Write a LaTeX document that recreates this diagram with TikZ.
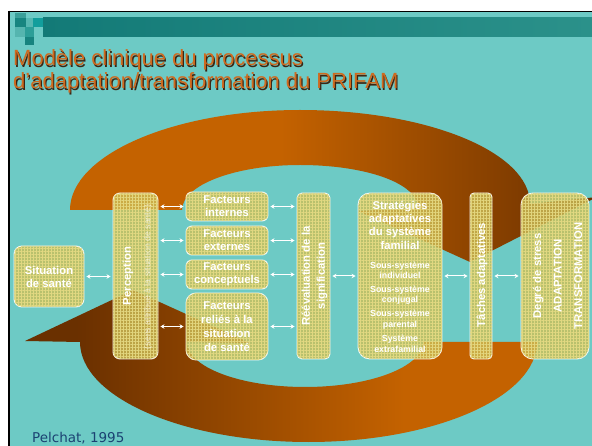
\documentclass[tikz,border=0pt]{standalone}
\usepackage{fontspec}
\setmainfont{Liberation Sans}
\newfontfamily\citefont{DejaVu Sans}
\usetikzlibrary{arrows.meta,patterns.meta}

% palette
\definecolor{slideTeal}{HTML}{6DCAC5}
\definecolor{barDark}{HTML}{137A77}
\definecolor{barLight}{HTML}{2B918A}
\definecolor{arcOrange}{HTML}{C46200}
\definecolor{arcDark}{HTML}{6A3000}
\definecolor{panelFill}{HTML}{CDBF58}
\definecolor{panelGrid}{HTML}{E6DB84}
\definecolor{titleOrange}{HTML}{CF6A1F}
\definecolor{titleShadow}{HTML}{3B2614}
\definecolor{citeBlue}{HTML}{1B4272}

% gradients of the two curved arrows
\pgfdeclarehorizontalshading{arcTopShade}{100bp}{color(0bp)=(arcOrange); color(25bp)=(arcOrange); color(45bp)=(arcOrange); color(75bp)=(arcDark); color(100bp)=(arcDark)}
\pgfdeclarehorizontalshading{arcBotShade}{100bp}{color(0bp)=(arcDark); color(25bp)=(arcDark); color(30bp)=(arcDark); color(62bp)=(arcOrange); color(100bp)=(arcOrange)}

\begin{document}
\begin{tikzpicture}[x=1pt,y=-1pt,
  panel/.style={rounded corners=#1, draw=white, draw opacity=0.9, line width=0.9pt,
    fill=panelFill, fill opacity=0.8, inner sep=0pt,
    postaction={pattern={Hatch[angle=0,distance=3pt,line width=0.9pt]}, pattern color=panelGrid, fill opacity=0.5}},
  panel/.default=8pt,
  lbl/.style={text=white, font=\bfseries\fontsize{11.3}{13}\selectfont, align=center, inner sep=0pt},
  small/.style={text=white, font=\bfseries\fontsize{8.8}{10.5}\selectfont, align=center, inner sep=0pt},
  link/.style={{Stealth[length=4pt,width=4.5pt]}-{Stealth[length=4pt,width=4.5pt]}, white, line width=1pt,
    shorten <=2pt, shorten >=2pt},
  titletext/.style={anchor=base west, inner sep=0pt, font=\fontsize{22}{23}\selectfont}
]
\useasboundingbox (0,0) rectangle (592,446);

% slide ground
\fill[white] (0,0) rectangle (592,446);
\fill[slideTeal] (10,12) rectangle (592,446);

% header band and corner squares
\shade[left color=barDark, right color=barLight] (43,18) rectangle (592,37);
\fill[fill={rgb,255:red,58;green,159;blue,153}] (15,13) rectangle (26,18);
\fill[fill={rgb,255:red,23;green,133;blue,128}] (15,18) rectangle (26,27);
\fill[fill={rgb,255:red,86;green,184;blue,178}] (26,18) rectangle (33,27);
\fill[fill={rgb,255:red,18;green,158;blue,156}] (33,18) rectangle (43,27);
\fill[fill={rgb,255:red,85;green,181;blue,175}] (15,27) rectangle (25,37);
\fill[fill={rgb,255:red,44;green,158;blue,152}] (25,27) rectangle (34,37);
\fill[fill={rgb,255:red,23;green,131;blue,127}] (25,37) rectangle (34,45);

% frame lines
\draw[black, line width=1.8pt] (8,11.5) -- (592,11.5);
\draw[black, line width=2.4pt] (9.2,10.6) -- (9.2,446);

% title with its shadow
\node[titletext, text=titleShadow] (title1shadow) at (14.2,67.2) {Modèle clinique du processus};
\node[titletext, text=titleOrange] (title1) at (13,66) {Modèle clinique du processus};
\node[titletext, text=titleShadow] (title2shadow) at (14.2,90.2) {d’adaptation/transformation du PRIFAM};
\node[titletext, text=titleOrange] (title2) at (13,89) {d’adaptation/transformation du PRIFAM};

% upper curved arrow, pointing down on the right
\shade[shading=arcTopShade]
  (70,210) .. controls (70,155) and (173,110) .. (300,110)
  .. controls (427,110) and (530,152) .. (530,204)
  -- (597,197) -- (470,262) -- (358,211) -- (418,208)
  .. controls (418,183) and (365,165) .. (300,165)
  .. controls (235,165) and (182,185) .. (182,210) -- cycle;

% lower curved arrow, pointing up on the left
\shade[shading=arcBotShade]
  (537,342) .. controls (537,397) and (434.7,442) .. (308.5,442)
  .. controls (182.3,442) and (80,397) .. (80,342)
  -- (25,341) -- (133,290) -- (250,343) -- (187,342)
  .. controls (187,367) and (240,387) .. (305,387)
  .. controls (370,387) and (423,367) .. (423,342) -- cycle;

% boxes
\node[panel=8pt, minimum width=70pt, minimum height=61pt] (sit) at (49,276.5) {};
\node[panel=7pt, minimum width=45pt, minimum height=166pt] (perc) at (135.5,276) {};
\node[panel=6pt, minimum width=82pt, minimum height=29pt] (fint) at (227,206.5) {};
\node[panel=6pt, minimum width=82pt, minimum height=29pt] (fext) at (227,240.5) {};
\node[panel=6pt, minimum width=82pt, minimum height=29pt] (fconc) at (227,274.5) {};
\node[panel=10pt, minimum width=82pt, minimum height=67pt] (frel) at (227,326.5) {};
\node[panel=5pt, minimum width=33pt, minimum height=166pt] (reev) at (313.5,276) {};
\node[panel=12pt, minimum width=84pt, minimum height=166pt] (strat) at (400,276) {};
\node[panel=4pt, minimum width=22pt, minimum height=166pt] (taches) at (481,276) {};
\node[panel=12pt, minimum width=68pt, minimum height=166pt] (degre) at (555,276) {};

% box texts
\node[lbl] (sitT) at (sit.center) {Situation\\de santé};
\node[lbl, rotate=90] (percT) at (128,276) {Perception};
\node[text=white, text opacity=0.7, font=\fontsize{8.8}{10}\selectfont, inner sep=0pt, rotate=90]
  (percS) at (148,277) {(sens attribué à la situation de santé)};
\node[lbl] (fintT) at (fint.center) {Facteurs\\internes};
\node[lbl] (fextT) at (fext.center) {Facteurs\\externes};
\node[lbl] (fconcT) at (fconc.center) {Facteurs\\conceptuels};
\node[lbl, font=\bfseries\fontsize{11.3}{14}\selectfont] (frelT) at (frel.center) {Facteurs\\reliés à la\\situation\\de santé};
\node[lbl, rotate=90, font=\bfseries\fontsize{11.3}{15}\selectfont] (reevT) at (314.5,276) {Réévaluation de la\\signification};
\node[lbl, font=\bfseries\fontsize{11.3}{13.3}\selectfont] (stratT) at (400,225) {Stratégies\\adaptatives\\du système\\familial};
\node[small] (strat1) at (400,270.5) {Sous-système\\individuel};
\node[small] (strat2) at (400,295) {Sous-système\\conjugal};
\node[small] (strat3) at (400,319.5) {Sous-système\\parental};
\node[small] (strat4) at (400,344) {Système\\extrafamilial};
\node[lbl, rotate=90] (tachesT) at (482,275) {Tâches adaptatives};
\node[lbl, rotate=90, font=\bfseries\fontsize{11.3}{20.5}\selectfont] (degreT) at (557.5,276) {Degré de stress\\ADAPTATION\\TRANSFORMATION};

% connectors
\draw[link] (sit.east) -- (perc.west |- sit.east);
\draw[link] (perc.east |- fint.west) -- (fint.west);
\draw[link] (perc.east |- fext.west) -- (fext.west);
\draw[link] (perc.east |- fconc.west) -- (fconc.west);
\draw[link] (perc.east |- frel.west) -- (frel.west);
\draw[link] (fint.east) -- (reev.west |- fint.east);
\draw[link] (fext.east) -- (reev.west |- fext.east);
\draw[link] (fconc.east) -- (reev.west |- fconc.east);
\draw[link] (frel.east) -- (reev.west |- frel.east);
\draw[link] (reev.east) -- (strat.west);
\draw[link] (strat.east) -- (taches.west);
\draw[link] (taches.east) -- (degre.west);

% source
\node[anchor=base west, inner sep=0pt, text=citeBlue, font=\citefont\fontsize{13.5}{14}\selectfont] (cite) at (32,442) {Pelchat, 1995};
\end{tikzpicture}
\end{document}
